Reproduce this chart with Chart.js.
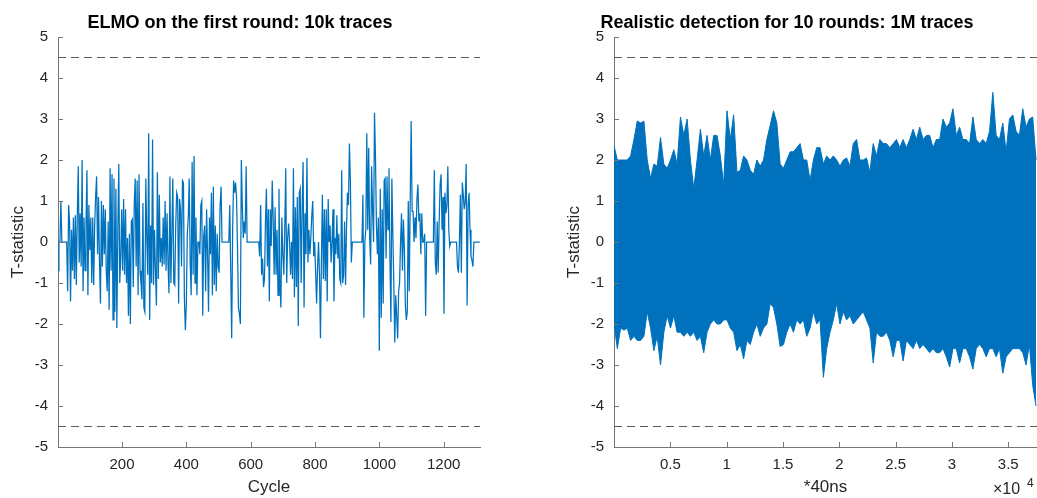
<!DOCTYPE html>
<html>
<head>
<meta charset="utf-8">
<script src="https://cdn.jsdelivr.net/npm/chart.js@4.4.1/dist/chart.umd.min.js"></script>
<style>
  body { margin:0; background:#fff; width:1037px; height:498px; position:relative; overflow:hidden;
         font-family:"Liberation Sans", Arial, sans-serif; }
  canvas { position:absolute; top:0; }
  #leftChart { left:0; }
  #rightChart { left:556px; }
  .title { position:absolute; top:13px; font-weight:bold; font-size:18px; line-height:18px; color:#000;
           white-space:nowrap; transform:translateX(-50%); }
  .exp { position:absolute; color:#262626; white-space:nowrap; }
</style>
</head>
<body>
<canvas id="leftChart" width="500" height="498"></canvas>
<canvas id="rightChart" width="481" height="498"></canvas>
<div class="title" style="left:240px">ELMO on the first round: 10k traces</div>
<div class="title" style="left:787px">Realistic detection for 10 rounds: 1M traces</div>
<span class="exp" style="left:993px; top:481px; font-size:16px; line-height:16px">×10</span>
<span class="exp" style="left:1027px; top:477px; font-size:12px; line-height:12px">4</span>
<script>
// ---- left plot: ELMO t-statistic, one reading every 3 cycles ----
const cycleStart = 1;
const cycleStep = 3;
const cycleMax = 1313;
const elmoT = [
  // cycles 1 - 220
  -0.7, 0, 0, 1.0, 0, 0, 0, 0, 0, 0,
  -1.2, 0.9, 0.5, -1.45, 0.3, -0.7, 0.6, -0.9, 0.65, -1.05,
  0.65, 1.85, -0.5, 0.7, -0.6, 2.0, -1.2, 0.6, -0.7, 0.4,
  1.75, -1.3, 0.9, -0.2, 0.6, -1.0, 0.6, -1.05, 0.4, 1.1,
  1.6, -0.3, 1.1, -0.5, -1.5, 1.0, -0.6, 0.9, -0.3, 0.8,
  -0.7, -1.2, 0.5, -1.65, 1.8, -0.7, 1.65, -1.9, 1.55, -1.7,
  1.3, -2.1, 0.3, 1.9, -1.0, -0.4, 0.8, -0.7, 1.05, -0.8,
  0.8, -1.0, 0.1, -1.8,
  // cycles 223 - 439
  0.2, -2.0, 0.5, 0.55, -1.1, 0.9, 1.55, -0.6, 1.5, -1.3,
  1.65, -0.7, -1.0, -1.4, 0.95, -1.6, -1.7, 1.55, 0.1, -0.8,
  2.65, -1.9, 0.4, -1.0, 2.5, -1.05, 0.3, -0.7, -1.55, 1.7,
  -0.9, 1.15, -0.5, 0.1, -0.6, 0.6, -0.55, 1.0, -0.7, 0.7,
  -0.5, -1.25, 1.6, -1.0, 0.2, 1.55, -1.0, -1.05, 0.4, 1.2,
  1.1, -1.5, 1.05, 0.8, -0.6, 1.5, 1.45, -1.4, -2.15, -1.5,
  0.2, 0.6, 1.55, -0.5, -1.3, 1.95, -0.8, 2.1, -1.0, 0.6,
  -1.3, 0.0, 0.0,
  // cycles 442 - 658
  -0.3, 0.9, 1.0, -1.8, 0.15, 0.4, -1.2, 0.8, -0.3, -1.7,
  0.6, -0.3, 1.2, -1.3, 1.35, -1.05, 0.4, -1.2, 0.2, -0.6,
  -0.75, 0.9, 1.35,
  0, 0, 0, 0, 0, 0, 0, 0,
  0.9, -0.7, -2.35, 0.35, 1.5, 1.2, 1.45, 1.1, -0.1, -1.6,
  -1.75, -2.0, 2.0, 0.9, 0.1, 0.5, 0.2, 1.85,
  0, 0, 0, 0, 0, 0, 0, 0, 0, 0, 0, 0, 0,
  -0.35, 0.9, -0.8, -0.4, -1.1, -0.9, 0.5, 1.3, -0.6, 0.8, -1.45,
  // cycles 661 - 862
  0.8, -0.1, 1.5, 0.6, -0.8, 0.85, -0.8, 0.3, -1.3, 1.3,
  -1.0, -1.6, 0.6, -0.3, -0.8, 0.3, 1.8, -1.0, 0.1, 0.45,
  0.0, -0.8, 0.0, -0.9, 1.8, -1.35, 0.85, -1.1, 1.1, -2.05,
  1.2, 1.3, -1.0, 0.8, 1.95, -1.6, 0.7, -0.3, 2.05, -0.5,
  0.3, -0.3, 0.1, 0.65, 1.0, -0.35, 0.0, -0.75, -1.5, -0.6,
  0.0, -0.8, -2.35, -0.4, 1.15, -0.9, 0.8, -0.95, 0.8, -1.45,
  1.05, 0.0, 0.4, -0.5, 0.0, 0.8, -1.45, 0.1,
  // cycles 865 - 1081
  -0.3, 0.65, -0.4, 0.2, -0.9, -1.0, 1.75, -1.0, -0.8, 0.5,
  -1.05, 0.35, 1.2, 0.9, 2.4, 1.5, -0.5,
  0, 0, 0, 0, 0, 0, 0, 0, 0, 0, 0,
  1.15, -1.85, 0.0, 0.3, 2.65, 0.3, 2.3, 0.1, -0.55, 1.85,
  0.8, 0.0, 3.15, 2.1, 0.4, -0.3, 0.6, -2.65, 1.3, -1.85,
  0.8, -1.5, 1.5, 1.55, -0.4, 1.6, 0.3, 1.8, -0.4, -1.95,
  1.55, 0.2, -1.0, -2.45, -1.3, -1.8, -2.35, -1.2, -1.0, 0.0,
  0.7, -0.7, 0.55, -0.2, -1.55,
  // cycles 1084 - 1312
  -1.9, -1.7, 1.0, -1.2, 1.05, 2.95, 0.75, 0.75, 0.0, 0.6,
  0.1, 1.05, 1.4, 0.5, 0.7, -0.3, 0.7, 0.0, 0.0, 0.2, -1.8,
  0, 0, 0, 0, 0, 0, 0, 0,
  1.75, -0.5, -0.8, 0.5, -0.75, 0.5, 1.4, 1.65, 0.3, 1.1,
  -1.75, 1.2, 0.7, 0.9, 1.85, 0.3, -0.1,
  0, 0, 0, 0, 0, 0, 0,
  -0.6, -0.75, 0.0, 1.15, -0.75, 1.45, 1.15, 0.8, 1.0, 1.9,
  -1.55, 0.9, 1.2, 0.3, -0.35, -0.45, -0.6,
  0, 0, 0, 0, 0, 0, 0
];
const cycleTicks = [200, 400, 600, 800, 1000, 1200];

// ---- right plot: envelope of the 1M-trace t-statistic, every 295 samples ----
const sampleStep = 295;
const sampleMax = 37550;
const bandUpper = [
  2.35, 2.0, 2.0, 2.0, 2.0, 2.1, 2.5, 2.95, 2.9, 2.95, 2.0, 1.55, 1.9, 1.85, 2.55, 1.9,
  1.8, 2.0, 2.25, 1.9, 3.05, 2.6, 3.0, 2.0, 1.3, 2.0, 2.75, 2.1, 2.6, 2.0, 2.6, 2.6,
  2.1, 1.4, 3.2, 2.5, 3.1, 1.7, 1.75, 2.1, 2.0, 1.75, 1.65, 2.0, 1.85, 2.0, 2.5, 2.85,
  3.2, 2.9, 1.9, 1.8, 2.0, 2.2, 2.2, 2.3, 2.4, 2.0, 2.0, 1.5, 2.0, 2.3, 2.3, 1.9,
  2.1, 2.0, 2.1, 2.0, 1.85, 2.0, 2.05, 1.85, 2.4, 2.5, 2.0, 2.0, 2.05, 1.7, 2.4, 2.1,
  2.5, 2.4, 2.4, 2.3, 2.4, 2.5, 2.3, 2.5, 2.3, 2.5, 2.75, 2.5, 2.8, 2.5, 2.6, 2.6,
  2.3, 2.5, 2.5, 3.0, 2.8, 2.9, 3.25, 2.6, 2.8, 2.5, 2.5, 2.4, 3.05, 2.5, 2.4, 2.5,
  2.4, 2.7, 3.65, 2.6, 2.5, 2.9, 2.2, 3.0, 3.1, 2.7, 2.6, 3.25, 2.8, 3.0, 3.05, 2.0
];
const bandLower = [
  -2.0, -2.6, -2.1, -2.15, -2.1, -2.4, -2.3, -2.4, -2.4, -2.3, -1.7, -2.1, -2.65, -2.3, -3.0, -2.2,
  -1.8, -2.1, -1.8, -2.2, -2.2, -2.3, -2.2, -2.3, -2.2, -2.4, -2.3, -2.7, -2.2, -2.0, -1.9, -2.0,
  -2.0, -1.9, -1.9, -2.1, -2.2, -2.65, -2.5, -2.85, -2.4, -2.5, -2.2, -2.0, -2.3, -2.1, -2.0, -1.5,
  -1.6, -2.0, -2.55, -2.5, -2.2, -2.0, -2.2, -1.9, -2.0, -1.9, -2.3, -2.1, -1.7, -2.0, -1.9, -3.3,
  -2.6, -2.2, -1.9, -1.5, -2.0, -1.7, -1.9, -1.8, -2.0, -1.9, -1.8, -1.7, -1.9, -2.1, -2.95, -2.2,
  -2.3, -2.3, -2.2, -2.4, -2.8, -2.4, -2.4, -2.9, -2.4, -2.5, -2.6, -2.4, -2.6, -2.5, -2.6, -2.7,
  -2.6, -2.7, -2.7, -2.6, -2.8, -3.05, -2.6, -2.6, -2.95, -2.6, -2.6, -2.8, -3.1, -2.6, -2.5, -2.6,
  -2.8, -2.6, -2.6, -2.8, -2.6, -3.2, -2.8, -2.7, -2.6, -2.6, -2.6, -2.7, -3.0, -2.5, -3.5, -4.0
];
const sampleTicks = [5000, 10000, 15000, 20000, 25000, 30000, 35000];

const yTicks = [-5, -4, -3, -2, -1, 0, 1, 2, 3, 4, 5];
const thresholds = [4.5, -4.5];

// ---- styling ----
const blue = '#0072BD';
const axisGrey = '#767676';
const dashGrey = '#5a5a5a';

Chart.defaults.font.family = '"Liberation Sans", Arial, sans-serif';
Chart.defaults.color = '#262626';

// MATLAB style ticks pointing into the axes
const inwardTicks = {
  id: 'inwardTicks',
  afterDraw(chart) {
    const { ctx, chartArea: a, scales: { x, y } } = chart;
    ctx.save();
    ctx.strokeStyle = axisGrey;
    ctx.lineWidth = 1;
    ctx.beginPath();
    x.ticks.forEach(t => {
      const px = Math.round(x.getPixelForValue(t.value)) + 0.5;
      ctx.moveTo(px, a.bottom);
      ctx.lineTo(px, a.bottom - 5);
    });
    y.ticks.forEach(t => {
      const py = Math.round(y.getPixelForValue(t.value)) + 0.5;
      ctx.moveTo(a.left, py);
      ctx.lineTo(a.left + 5, py);
    });
    ctx.stroke();
    ctx.restore();
  }
};

function thresholdSets(xMin, xMax) {
  return thresholds.map(t => ({
    data: [{ x: xMin, y: t }, { x: xMax, y: t }],
    borderColor: dashGrey,
    borderWidth: 1,
    borderDash: [8, 5],
    pointRadius: 0,
    fill: false
  }));
}

function makeScales(xMin, xMax, xTicks, xLabel, xFmt) {
  return {
    x: {
      type: 'linear', min: xMin, max: xMax,
      afterBuildTicks: s => { s.ticks = xTicks.map(v => ({ value: v })); },
      afterFit: s => { s.height = 51; },
      grid: { drawOnChartArea: false, drawTicks: false },
      border: { color: axisGrey, width: 1 },
      ticks: { font: { size: 15 }, padding: 9, maxRotation: 0, autoSkip: false, callback: xFmt },
      title: { display: true, text: xLabel, font: { size: 17 }, padding: 0 }
    },
    y: {
      type: 'linear', min: -5, max: 5,
      afterBuildTicks: s => { s.ticks = yTicks.map(v => ({ value: v })); },
      afterFit: s => { s.width = 58; },
      grid: { drawOnChartArea: false, drawTicks: false },
      border: { color: axisGrey, width: 1 },
      ticks: { font: { size: 15 }, padding: 10, callback: v => String(v) },
      title: { display: true, text: 'T-statistic', font: { size: 17 }, padding: { top: 8, bottom: 0 } }
    }
  };
}

const common = {
  responsive: false,
  animation: false,
  devicePixelRatio: 1,
  events: [],
  plugins: { legend: { display: false }, tooltip: { enabled: false }, title: { display: false } }
};

// left chart
new Chart(document.getElementById('leftChart'), {
  type: 'line',
  data: {
    datasets: [
      {
        data: elmoT.map((v, i) => ({ x: cycleStart + i * cycleStep, y: v })),
        borderColor: blue,
        borderWidth: 1.25,
        pointRadius: 0,
        tension: 0,
        fill: false
      },
      ...thresholdSets(cycleStart, cycleMax)
    ]
  },
  options: Object.assign({}, common, {
    layout: { padding: { top: 37, right: 20, left: 0, bottom: 0 } },
    scales: makeScales(cycleStart, cycleMax, cycleTicks, 'Cycle', v => String(v))
  }),
  plugins: [inwardTicks]
});

// right chart
new Chart(document.getElementById('rightChart'), {
  type: 'line',
  data: {
    datasets: [
      {
        data: bandLower.map((v, i) => ({ x: i * sampleStep, y: v })),
        borderColor: blue,
        borderWidth: 1,
        pointRadius: 0,
        fill: false
      },
      {
        data: bandUpper.map((v, i) => ({ x: i * sampleStep, y: v })),
        borderColor: blue,
        backgroundColor: blue,
        borderWidth: 1,
        pointRadius: 0,
        fill: '-1'
      },
      ...thresholdSets(0, sampleMax)
    ]
  },
  options: Object.assign({}, common, {
    layout: { padding: { top: 37, right: 0, left: 0, bottom: 0 } },
    scales: makeScales(0, sampleMax, sampleTicks, '*40ns', v => String(v / 10000))
  }),
  plugins: [inwardTicks]
});
</script>
</body>
</html>
